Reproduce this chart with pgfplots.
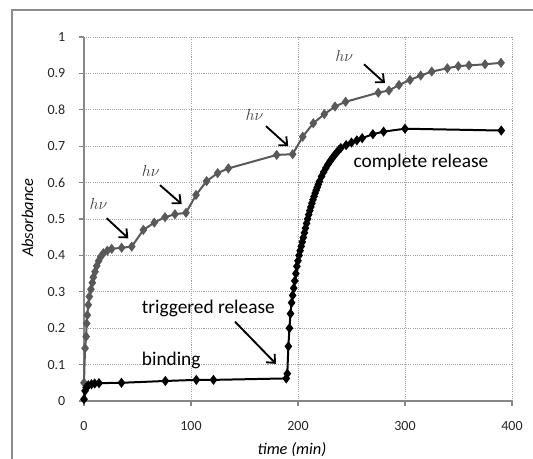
\documentclass[border=0pt]{standalone}
\usepackage{fontspec}
\setmainfont{Carlito}
\usepackage{pgfplots}
\pgfplotsset{compat=1.18}
\usetikzlibrary{arrows.meta}

\definecolor{frame}{HTML}{8C8C8C}
\definecolor{axisgray}{HTML}{868686}
\definecolor{gridgray}{HTML}{A0A0A0}
\definecolor{series1}{HTML}{595959}

\begin{document}
\begin{tikzpicture}
\begin{axis}[
    scale only axis,
    width=321pt, height=273pt,
    xmin=0, xmax=400, ymin=0, ymax=1,
    xtick={0,100,...,400},
    ytick={0,0.1,...,1},
    axis x line=bottom, axis y line=left,
    axis line style={-, axisgray, line width=1.1pt},
    tick style={axisgray, line width=0.8pt},
    tick align=outside, major tick length=3.5pt,
    grid=major,
    major grid style={gridgray, line width=0.7pt, dash pattern=on 0.8pt off 0.8pt},
    /pgf/number format/assume math mode=true,
    ticklabel style={font=\fontsize{10.5}{12}\selectfont, text=black!85},
    xticklabel style={yshift=-8pt},
    yticklabel style={xshift=-7pt},
    xlabel={\textit{time (min)}},
    ylabel={\textit{Absorbance}},
    xlabel style={font=\fontsize{12.3}{14}\selectfont, at={(axis description cs:0.486,-0.135)}, anchor=center},
    ylabel style={font=\fontsize{12.3}{14}\selectfont, at={(axis description cs:-0.132,0.503)}, anchor=center, rotate=0},
    clip=false,
]
% gray series: irradiation steps
\addplot[series1, line width=1.5pt, mark=diamond*, mark size=2.6pt, mark options={series1, solid}] coordinates {
    (0,0.05)(1,0.145)(2,0.177)(2.5,0.213)(3.1,0.236)(4,0.264)(5,0.287)(6.5,0.307)
    (7.8,0.325)(8.7,0.340)(10.3,0.355)(11.9,0.371)(13.7,0.385)(15.6,0.396)(18,0.406)
    (21.8,0.413)(25.9,0.418)(35.2,0.421)(44.6,0.424)(55.5,0.470)(65.7,0.490)(75.7,0.505)
    (85,0.513)(95.3,0.517)(104.7,0.566)(114.6,0.604)(124.9,0.626)(134.9,0.639)(180.1,0.676)
    (195,0.678)(204.4,0.726)(214.3,0.763)(224.6,0.788)(234.6,0.809)(244.5,0.822)(275,0.847)
    (285,0.853)(294.4,0.868)(304.7,0.882)(314.7,0.894)(325,0.905)(339.6,0.914)(349.8,0.920)
    (359.8,0.922)(374.8,0.925)(389.7,0.929)
};
% black series: binding and release
\addplot[black, line width=1.5pt, mark=diamond*, mark size=2.6pt, mark options={black, solid}] coordinates {
    (0,0.005)(1,0.028)(2,0.037)(4,0.043)(7,0.046)(10,0.048)(14,0.049)(35,0.050)
    (76,0.055)(105,0.058)(121,0.058)(189,0.062)(190,0.075)(191,0.15)(192,0.20)(193,0.24)
    (194,0.27)(195,0.29)(196,0.31)(197,0.33)(198,0.35)(199,0.37)(200,0.385)(201,0.40)
    (202,0.413)(203,0.425)(204,0.437)(205,0.449)(206,0.462)(207,0.475)(208,0.488)(209,0.50)
    (210,0.512)(211,0.523)(212,0.533)(213,0.543)(214,0.553)(215,0.562)(216,0.571)(217,0.579)
    (218,0.587)(219,0.595)(220,0.603)(222,0.617)(224,0.629)(226,0.640)(228,0.650)(230,0.659)
    (232,0.667)(234,0.675)(236,0.682)(238,0.689)(240,0.695)(245,0.703)(250,0.710)(255,0.716)
    (260,0.722)(270,0.733)(280,0.740)(300,0.748)(390,0.743)
};
% annotations
\node[anchor=base west, inner sep=0pt, font=\fontsize{12}{12}\selectfont, text=black!75] at (axis cs:5,0.525) {$h\nu$};
\node[anchor=base west, inner sep=0pt, font=\fontsize{12}{12}\selectfont, text=black!75] at (axis cs:53.9,0.618) {$h\nu$};
\node[anchor=base west, inner sep=0pt, font=\fontsize{12}{12}\selectfont, text=black!75] at (axis cs:150.7,0.770) {$h\nu$};
\node[anchor=base west, inner sep=0pt, font=\fontsize{12}{12}\selectfont, text=black!75] at (axis cs:234.6,0.932) {$h\nu$};
\draw[-{Straight Barb[length=5pt,width=9pt]}, line width=1.4pt] (axis cs:21.2,0.502) -- (axis cs:41.4,0.447);
\draw[-{Straight Barb[length=5pt,width=9pt]}, line width=1.4pt] (axis cs:71,0.593) -- (axis cs:91.3,0.541);
\draw[-{Straight Barb[length=5pt,width=9pt]}, line width=1.4pt] (axis cs:170.1,0.755) -- (axis cs:190.9,0.700);
\draw[-{Straight Barb[length=5pt,width=9pt]}, line width=1.4pt] (axis cs:261.7,0.925) -- (axis cs:281.3,0.873);
\draw[-{Straight Barb[length=5pt,width=9pt]}, line width=1.4pt] (axis cs:141.1,0.218) -- (axis cs:179.4,0.102);
\node[anchor=base west, inner sep=0pt, font=\fontsize{14.5}{16}\selectfont] at (axis cs:53.9,0.241) {triggered release};
\node[anchor=base west, inner sep=0pt, font=\fontsize{14.5}{16}\selectfont] at (axis cs:53.9,0.097) {binding};
\node[anchor=base west, inner sep=0pt, font=\fontsize{14.5}{16}\selectfont] at (axis cs:251.7,0.642) {complete release};
\end{axis}
\draw[frame, line width=0.8pt] (-54pt,-60pt) -- (-54pt,293.25pt) -- (350pt,293.25pt);
\pgfresetboundingbox
\useasboundingbox (-63pt,-43.5pt) rectangle (336.75pt,300.75pt);
\end{tikzpicture}
\end{document}
